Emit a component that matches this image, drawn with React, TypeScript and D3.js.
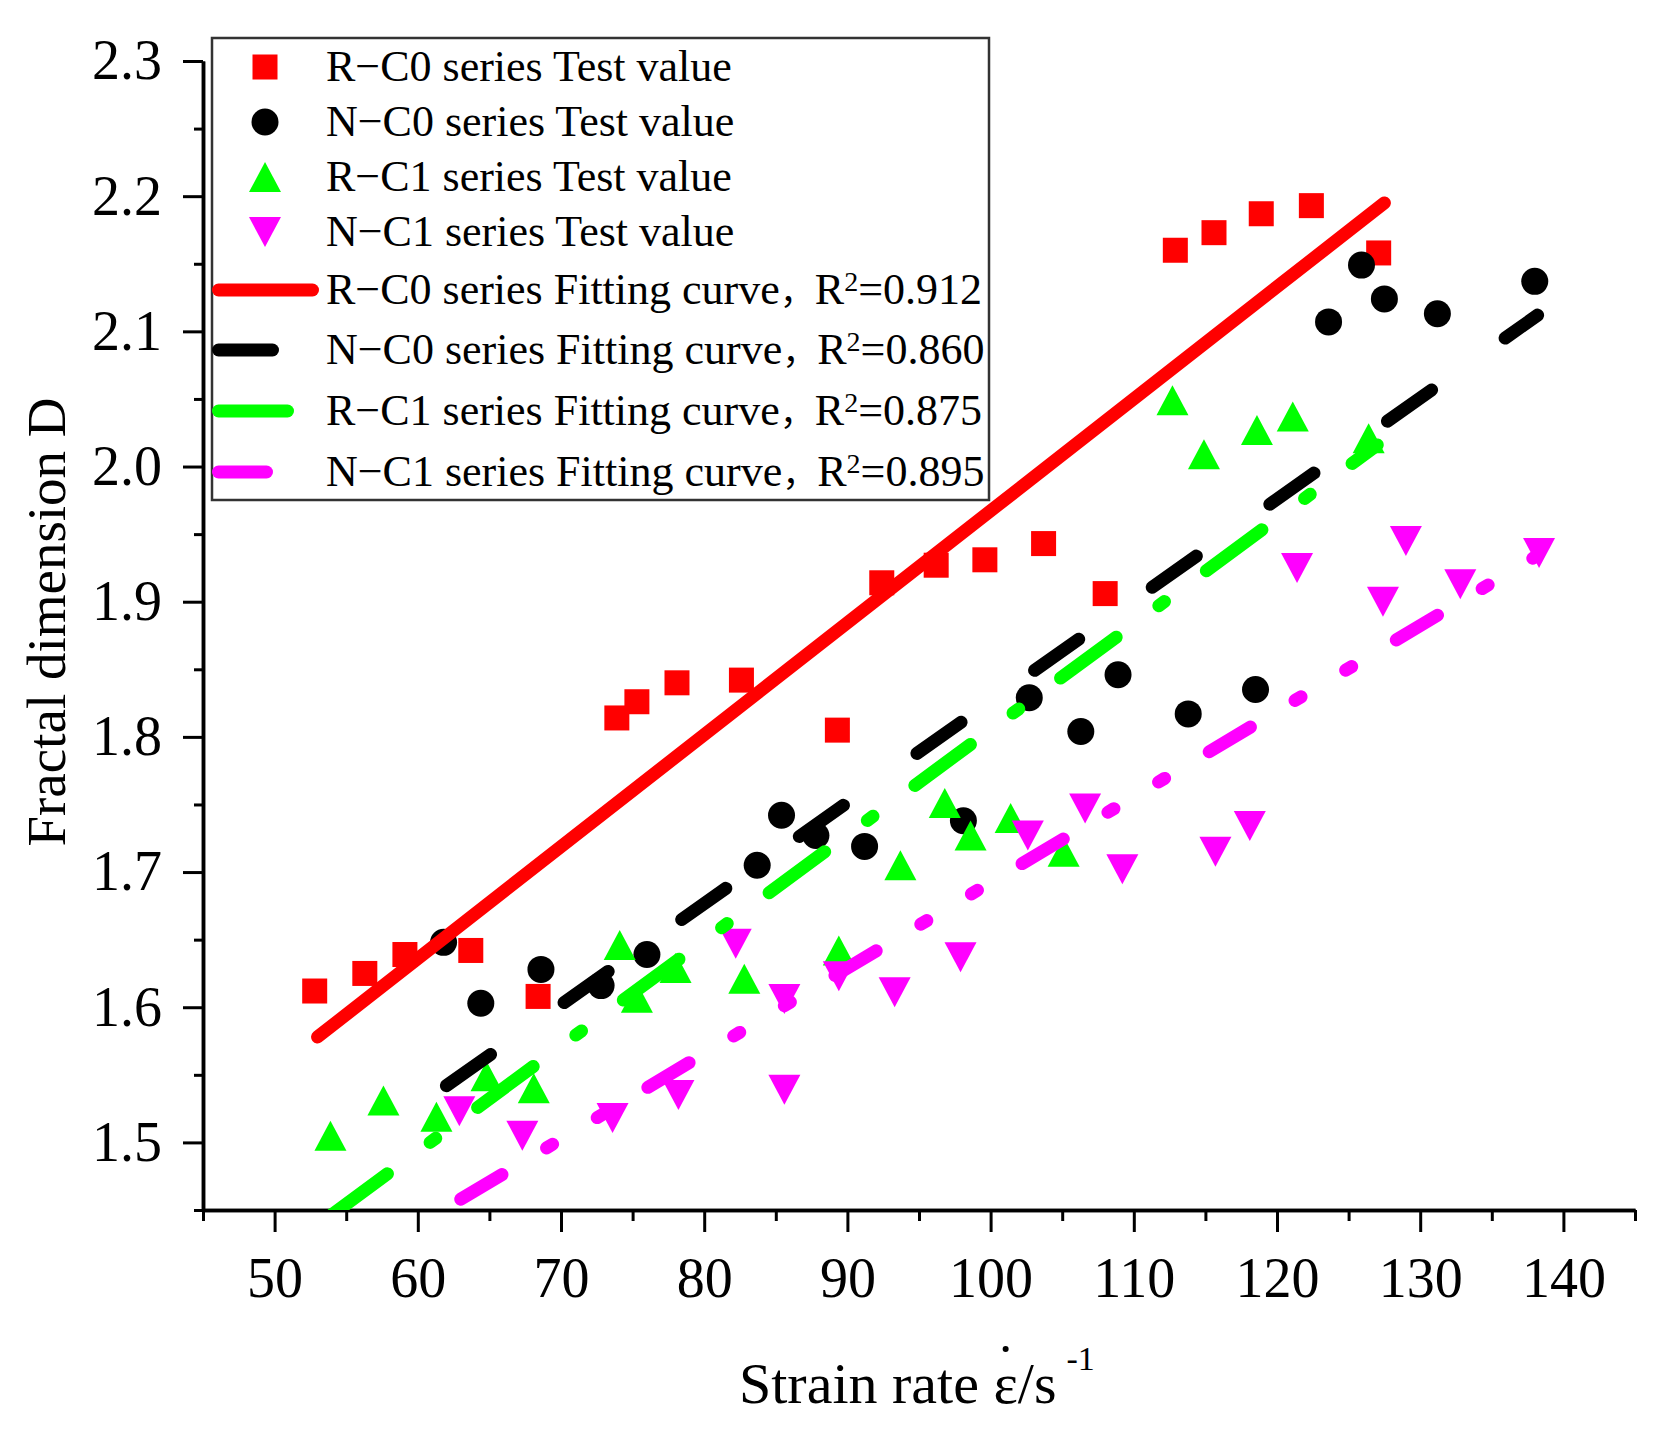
import { useEffect, useRef } from 'react';
import * as d3 from 'd3';

const WIDTH = 1667;
const HEIGHT = 1432;

// R-C0 series test values
const rc0Rate = [52.8, 56.3, 59.1, 63.7, 68.4, 73.9, 75.3, 78.1, 82.6, 89.3, 92.4, 96.2, 99.6, 103.7, 108.0, 112.9, 115.6, 118.9, 122.4, 127.1];
const rc0D = [1.612, 1.625, 1.639, 1.642, 1.608, 1.814, 1.826, 1.840, 1.842, 1.805, 1.914, 1.927, 1.931, 1.943, 1.906, 2.160, 2.173, 2.187, 2.193, 2.158];

// N-C0 series test values
const nc0Rate = [61.8, 64.4, 68.6, 72.8, 76.0, 83.7, 85.4, 87.8, 91.2, 98.1, 102.7, 106.3, 108.9, 113.8, 118.5, 123.6, 125.9, 127.5, 131.2, 138.0];
const nc0D = [1.648, 1.603, 1.628, 1.616, 1.639, 1.705, 1.742, 1.727, 1.719, 1.738, 1.829, 1.804, 1.846, 1.817, 1.835, 2.107, 2.149, 2.124, 2.113, 2.137];

// R-C1 series test values
const rc1Rate = [53.9, 57.6, 61.3, 64.8, 68.1, 74.1, 75.3, 78.0, 82.8, 89.4, 93.7, 96.8, 98.6, 101.4, 105.1, 112.7, 114.9, 118.6, 121.1, 126.4];
const rc1D = [1.505, 1.531, 1.519, 1.549, 1.540, 1.646, 1.607, 1.629, 1.621, 1.642, 1.705, 1.751, 1.727, 1.740, 1.715, 2.049, 2.009, 2.027, 2.037, 2.021];

// N-C1 series test values
const nc1Rate = [62.9, 67.3, 73.6, 78.2, 82.2, 85.6, 85.6, 89.4, 93.3, 97.9, 102.6, 106.6, 109.2, 115.7, 118.1, 121.4, 127.4, 129.0, 132.8, 138.3];
const nc1D = [1.523, 1.505, 1.518, 1.535, 1.647, 1.606, 1.539, 1.623, 1.611, 1.637, 1.727, 1.747, 1.702, 1.715, 1.734, 1.925, 1.900, 1.945, 1.913, 1.936];

const seriesNames = ['R\u2212C0', 'N\u2212C0', 'R\u2212C1', 'N\u2212C1'];
const fitR2 = ['0.912', '0.860', '0.875', '0.895'];
// fitting line end points (strain rate, D)
const fitStartRate = [53.0, 62.0, 54.0, 63.0];
const fitStartD = [1.578, 1.542, 1.4465, 1.458];
const fitEndRate = [127.5, 138.2, 127.0, 138.0];
const fitEndD = [2.195, 2.112, 2.016, 1.933];

const yMajor = [1.5, 1.6, 1.7, 1.8, 1.9, 2.0, 2.1, 2.2, 2.3];
const yMinor = [1.45, 1.55, 1.65, 1.75, 1.85, 1.95, 2.05, 2.15, 2.25];
const xMajor = [50, 60, 70, 80, 90, 100, 110, 120, 130, 140];
const xMinor = [45, 55, 65, 75, 85, 95, 105, 115, 125, 135, 145];

const COLORS = ['#ff0000', '#000000', '#00ff00', '#ff00ff'];
const SYMBOLS = ['square', 'circle', 'up', 'down'];
const DASHES = [null, '54,90', '69,53,7,52', '48,52,7,52,7,52'];
const FONT = "'Liberation Serif', 'Times New Roman', 'Noto Sans CJK SC', serif";

function marker(g: any, type: string, cx: number, cy: number, color: string) {
  if (type === 'square') {
    g.append('rect').attr('x', cx - 12.5).attr('y', cy - 12.5).attr('width', 25).attr('height', 25).attr('fill', color);
  } else if (type === 'circle') {
    g.append('ellipse').attr('cx', cx).attr('cy', cy).attr('rx', 13.5).attr('ry', 13.5).attr('fill', color);
  } else if (type === 'up') {
    g.append('path').attr('d', `M${cx - 16},${cy + 15}L${cx + 16},${cy + 15}L${cx},${cy - 15}Z`).attr('fill', color);
  } else {
    g.append('path').attr('d', `M${cx - 16},${cy - 15}L${cx + 16},${cy - 15}L${cx},${cy + 15}Z`).attr('fill', color);
  }
}

export default function App() {
  const svgRef = useRef<SVGSVGElement>(null);

  useEffect(() => {
    if (!svgRef.current) return;
    const svg = d3.select(svgRef.current);
    svg.selectAll('*').remove();

    const x = d3.scaleLinear().domain([45, 145]).range([203, 1635]);
    const y = d3.scaleLinear().domain([1.45, 2.3]).range([1210, 61]);

    svg.append('rect').attr('width', WIDTH).attr('height', HEIGHT).attr('fill', '#fff');

    // clip for plot area
    svg.append('defs').append('clipPath').attr('id', 'plot-clip')
      .append('rect').attr('x', 203).attr('y', 40).attr('width', 1432).attr('height', 1170);

    // Axes
    const styleAxis = (g: any, size: number) => {
      g.selectAll('path.domain').attr('stroke', '#000').attr('stroke-width', 3.5);
      g.selectAll('.tick line').attr('stroke', '#000').attr('stroke-width', 3);
      g.selectAll('.tick text').attr('fill', '#000').style('font-family', FONT).style('font-size', `${size}px`);
    };

    const yMinorG = svg.append('g').attr('transform', 'translate(203,0)')
      .call(d3.axisLeft(y).tickValues(yMinor).tickSize(9).tickSizeOuter(0).tickFormat(() => ''));
    styleAxis(yMinorG, 56);
    const yAxisG = svg.append('g').attr('transform', 'translate(203,0)')
      .call(d3.axisLeft(y).tickValues(yMajor).tickSize(20).tickSizeOuter(0).tickPadding(21).tickFormat(d3.format('.1f')));
    styleAxis(yAxisG, 56);

    const xMinorG = svg.append('g').attr('transform', 'translate(0,1210)')
      .call(d3.axisBottom(x).tickValues(xMinor).tickSize(11).tickSizeOuter(0).tickFormat(() => ''));
    styleAxis(xMinorG, 56);
    const xAxisG = svg.append('g').attr('transform', 'translate(0,1210)')
      .call(d3.axisBottom(x).tickValues(xMajor).tickSize(22).tickSizeOuter(0).tickPadding(25).tickFormat(d3.format('d')));
    styleAxis(xAxisG, 56);

    // Axis titles
    const xt = svg.append('text').attr('x', 739).attr('y', 1403)
      .style('font-family', FONT).style('font-size', '58px').attr('fill', '#000');
    xt.append('tspan').text('Strain rate \u03b5/s');
    xt.append('tspan').attr('dx', 10).attr('dy', -33).style('font-size', '34px').text('-1');
    // dot over epsilon
    const node = xt.node() as SVGTextElement;
    let dotX = 1013;
    try {
      const s = node.getStartPositionOfChar(12).x;
      const e = node.getEndPositionOfChar(12).x;
      dotX = (s + e) / 2;
    } catch (err) { /* keep default */ }
    svg.append('circle').attr('cx', dotX).attr('cy', 1349).attr('r', 3).attr('fill', '#000');

    svg.append('text').attr('transform', 'translate(65,622) rotate(-90)')
      .attr('text-anchor', 'middle')
      .style('font-family', FONT).style('font-size', '55px').attr('fill', '#000')
      .text('Fractal dimension D');

    // Scatter
    const plot = svg.append('g').attr('clip-path', 'url(#plot-clip)');
    const rates = [rc0Rate, nc0Rate, rc1Rate, nc1Rate];
    const ds = [rc0D, nc0D, rc1D, nc1D];
    rates.forEach((r, s) => {
      const g = plot.append('g');
      r.forEach((v, i) => marker(g, SYMBOLS[s], x(v), y(ds[s][i]), COLORS[s]));
    });

    // Fitting lines
    const line = d3.line<[number, number]>().x(d => x(d[0])).y(d => y(d[1]));
    fitStartRate.forEach((x0, s) => {
      const p = plot.append('path')
        .datum([[x0, fitStartD[s]], [fitEndRate[s], fitEndD[s]]] as [number, number][])
        .attr('d', line)
        .attr('fill', 'none')
        .attr('stroke', COLORS[s])
        .attr('stroke-width', 13)
        .attr('stroke-linecap', 'round');
      if (DASHES[s]) p.attr('stroke-dasharray', DASHES[s]);
    });

    // Legend
    const lg = svg.append('g');
    lg.append('rect').attr('x', 212).attr('y', 38).attr('width', 777).attr('height', 462)
      .attr('fill', '#fff').attr('stroke', '#333').attr('stroke-width', 2.5);
    const rowY = [67, 122, 177, 232, 290, 350, 411, 472];
    seriesNames.forEach((name, s) => {
      const cy = rowY[s];
      marker(lg, SYMBOLS[s], 265, cy, COLORS[s]);
      lg.append('text').attr('x', 326).attr('y', cy + 14)
        .style('font-family', FONT).style('font-size', '44px').attr('fill', '#000')
        .text(`${name} series Test value`);
    });
    seriesNames.forEach((name, s) => {
      const cy = rowY[s + 4];
      const p = lg.append('path').attr('d', `M218.5,${cy}H312.5`)
        .attr('fill', 'none').attr('stroke', COLORS[s]).attr('stroke-width', 13)
        .attr('stroke-linecap', 'round');
      if (DASHES[s]) p.attr('stroke-dasharray', DASHES[s]);
      const t = lg.append('text').attr('x', 326).attr('y', cy + 14)
        .style('font-family', FONT).style('font-size', '44px').attr('fill', '#000');
      t.append('tspan').text(`${name} series Fitting curve`);
      t.append('tspan').style('font-size', '35px').text('\uff0c');
      t.append('tspan').style('font-size', '44px').text('R');
      t.append('tspan').attr('dy', -13).style('font-size', '28px').text('2');
      t.append('tspan').attr('dy', 13).style('font-size', '44px').text(`=${fitR2[s]}`);
    });
  }, []);

  return (
    <svg
      ref={svgRef}
      width={WIDTH}
      height={HEIGHT}
      style={{ position: 'absolute', left: 0, top: 0, display: 'block' }}
    />
  );
}
